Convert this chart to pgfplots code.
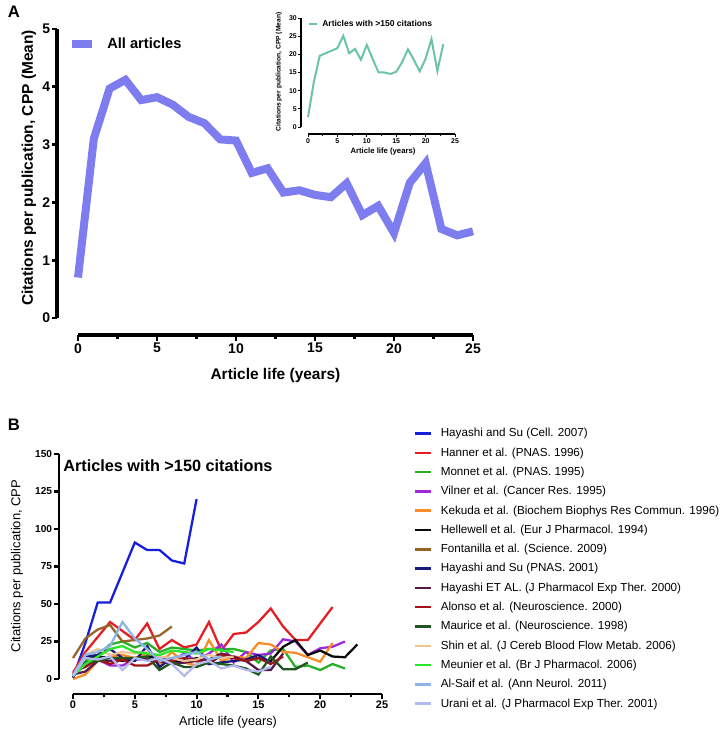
\documentclass[border=0pt]{standalone}
\usepackage{pgfplots}
\pgfplotsset{compat=1.18}
\usepackage{fontspec}
\setmainfont{Liberation Sans}
\definecolor{allart}{RGB}{125,125,240}
\definecolor{insetc}{RGB}{108,196,164}
\definecolor{c1}{RGB}{20,30,220}
\definecolor{c2}{RGB}{230,30,35}
\definecolor{c3}{RGB}{40,175,40}
\definecolor{c4}{RGB}{160,40,220}
\definecolor{c5}{RGB}{250,140,40}
\definecolor{c6}{RGB}{10,10,10}
\definecolor{c7}{RGB}{150,100,40}
\definecolor{c8}{RGB}{25,25,120}
\definecolor{c9}{RGB}{90,25,75}
\definecolor{c10}{RGB}{160,20,25}
\definecolor{c11}{RGB}{35,85,35}
\definecolor{c12}{RGB}{240,195,150}
\definecolor{c13}{RGB}{40,230,40}
\definecolor{c14}{RGB}{140,180,230}
\definecolor{c15}{RGB}{180,185,240}
\pgfplotsset{
  onlyaxis/.style={scale only axis, anchor=south west, tick align=outside,
    /pgf/number format/assume math mode=true},
}
\begin{document}
\begin{tikzpicture}
\path[use as bounding box] (0,0) rectangle (544.5pt,-555.75pt);
% ---------- Panel A ----------
\node[font=\fontsize{12.5}{14}\selectfont\bfseries] at (10.5pt,-9pt) {A};
\node[rotate=90, font=\fontsize{11.6}{13}\selectfont\bfseries] at (21.75pt,-126pt) {Citations per publication, CPP (Mean)};
\node[font=\fontsize{11.6}{13}\selectfont\bfseries] at (206.6pt,-281.25pt) {Article life (years)};
\begin{axis}[onlyaxis, at={(42.75pt,-238.5pt)}, width=1pt, height=216.75pt,
  xmin=0, xmax=1, ymin=0, ymax=5, axis y line*=left, hide x axis,
  ytick={0,1,2,3,4,5}, major tick length=3.5pt,
  axis line style={line width=2.8pt}, tick style={line width=2.2pt, black},
  yticklabel style={font=\fontsize{10.5}{12}\selectfont\bfseries, inner sep=1.5pt}]
\end{axis}
\begin{axis}[onlyaxis, at={(58.5pt,-251.25pt)}, width=296.25pt, height=1pt,
  xmin=0, xmax=25, ymin=0, ymax=1, axis x line*=bottom, hide y axis,
  xtick={0,5,10,15,20,25}, minor xtick={2.5,7.5,12.5,17.5,22.5},
  major tick length=4.5pt, minor tick length=3pt,
  axis line style={line width=2.8pt}, tick style={line width=2.2pt, black},
  xticklabel style={font=\fontsize{10.5}{12}\selectfont\bfseries, inner sep=1.5pt}]
\end{axis}
\begin{axis}[onlyaxis, at={(58.5pt,-238.5pt)}, width=296.25pt, height=216.75pt,
  xmin=0, xmax=25, ymin=0, ymax=5, hide axis, clip=false,
  legend style={draw=none, fill=none, at={(-0.0253,0.948)}, anchor=west, inner sep=0pt,
    nodes={inner sep=0pt, font=\fontsize{11}{13}\selectfont\bfseries}, column sep=8.25pt},
  legend image code/.code={\draw[#1] (0pt,0pt) -- (15pt,0pt);}]
\addplot[color=allart, line width=6pt] coordinates {
 (0,0.70) (1,3.10) (2,3.97) (3,4.12) (4,3.77) (5,3.82) (6,3.69) (7,3.48) (8,3.37)
 (9,3.09) (10,3.07) (11,2.51) (12,2.59) (13,2.17) (14,2.21) (15,2.13) (16,2.09)
 (17,2.33) (18,1.78) (19,1.94) (20,1.47) (21,2.34) (22,2.68) (23,1.54) (24,1.43) (25,1.50)};
\addlegendentry{All articles}
\end{axis}
% ---------- Inset ----------
\node[rotate=90, font=\fontsize{5}{6}\selectfont\bfseries] at (209.25pt,-54pt) {Citations per publication, CPP (Mean)};
\node[font=\fontsize{5.8}{7}\selectfont\bfseries] at (287.25pt,-114pt) {Article life (years)};
\begin{axis}[onlyaxis, at={(225.75pt,-95.25pt)}, width=1pt, height=81.75pt,
  xmin=0, xmax=1, ymin=0, ymax=30, axis y line*=left, hide x axis,
  ytick={0,5,10,15,20,25,30}, major tick length=2pt,
  axis line style={line width=0.8pt}, tick style={line width=0.7pt, black},
  yticklabel style={font=\fontsize{5.2}{6}\selectfont\bfseries, inner sep=1pt}]
\end{axis}
\begin{axis}[onlyaxis, at={(231pt,-100.5pt)}, width=110.25pt, height=1pt,
  xmin=0, xmax=25, ymin=0, ymax=1, axis x line*=bottom, hide y axis,
  xtick={0,5,10,15,20,25}, minor xtick={2.5,7.5,12.5,17.5,22.5},
  major tick length=2pt, minor tick length=1.5pt,
  axis line style={line width=0.8pt}, tick style={line width=0.7pt, black},
  xticklabel style={font=\fontsize{5.2}{6}\selectfont\bfseries, inner sep=1pt}]
\end{axis}
\begin{axis}[onlyaxis, at={(231pt,-95.25pt)}, width=110.25pt, height=81.75pt,
  xmin=0, xmax=25, ymin=0, ymax=30, hide axis, clip=false,
  legend style={draw=none, fill=none, at={(0,0.945)}, anchor=west, inner sep=0pt,
    nodes={inner sep=0pt, font=\fontsize{6.4}{7.5}\selectfont\bfseries}, column sep=3pt},
  legend image code/.code={\draw[#1] (0pt,0pt) -- (6pt,0pt);}]
\addplot[color=insetc, line width=1.5pt] coordinates {
 (0,2.7) (1,12.5) (2,19.6) (3,20.3) (4,21.0) (5,21.7) (6,25.1) (7,20.3) (8,21.5)
 (9,18.5) (10,22.6) (11,18.7) (12,15.0) (13,15.0) (14,14.6) (15,15.2) (16,17.8)
 (17,21.4) (18,18.5) (19,15.3) (20,18.8) (21,24.2) (22,15.4) (23,22.8)};
\addlegendentry{Articles with >150 citations}
\end{axis}
% ---------- Panel B ----------
\node[font=\fontsize{12.5}{14}\selectfont\bfseries] at (10.5pt,-318.75pt) {B};
\node[anchor=west, inner sep=0pt, font=\fontsize{12.2}{14}\selectfont\bfseries] at (47.25pt,-349.5pt) {Articles with >150 citations};
\node[rotate=90, font=\fontsize{9.75}{11}\selectfont] at (12.75pt,-424.5pt) {Citations per publication, CPP};
\node[font=\fontsize{9.5}{11}\selectfont] at (171pt,-541.5pt) {Article life (years)};
\begin{axis}[onlyaxis, at={(44.25pt,-509.25pt)}, width=1pt, height=168.75pt,
  xmin=0, xmax=1, ymin=0, ymax=150, axis y line*=left, hide x axis,
  ytick={0,25,50,75,100,125,150}, major tick length=3.5pt,
  axis line style={line width=2pt}, tick style={line width=1.6pt, black},
  yticklabel style={font=\fontsize{7.6}{9}\selectfont\bfseries, inner sep=1.5pt}]
\end{axis}
\begin{axis}[onlyaxis, at={(54.75pt,-520.5pt)}, width=231.75pt, height=1pt,
  xmin=0, xmax=25, ymin=0, ymax=1, axis x line*=bottom, hide y axis,
  xtick={0,5,10,15,20,25}, minor xtick={2.5,7.5,12.5,17.5,22.5},
  major tick length=3.5pt, minor tick length=2.5pt,
  axis line style={line width=2pt}, tick style={line width=1.6pt, black},
  xticklabel style={font=\fontsize{8.2}{9}\selectfont\bfseries, inner sep=1.5pt}]
\end{axis}
\begin{axis}[onlyaxis, at={(54.75pt,-509.25pt)}, width=231.75pt, height=168.75pt,
  xmin=0, xmax=25, ymin=0, ymax=150, hide axis, clip=false,
  every axis plot/.append style={line width=1.7pt},
  legend style={draw=none, fill=none, at={(1.1003,1.1187)}, anchor=north west, inner sep=0pt,
    nodes={inner sep=0pt, text height=7pt, text depth=2pt, font=\fontsize{8.75}{10.5}\selectfont},
    column sep=6.75pt, row sep=5.47pt},
  legend cell align=left,
  legend image code/.code={\draw[#1, line width=1.9pt] (0pt,0pt) -- (12pt,0pt);}]
\addplot[c1] coordinates {(0,1) (1,24) (2,51) (3,51) (4,71) (5,91) (6,86) (7,86) (8,79) (9,77) (10,120)};
\addlegendentry{Hayashi and Su (Cell. 2007)}
\addplot[c2] coordinates {(0,4) (1,18) (2,28) (3,38) (4,32) (5,26) (6,37) (7,20) (8,26) (9,21) (10,23) (11,38) (12,19) (13,30) (14,31) (15,38) (16,47) (17,35) (18,26) (19,26) (20,37) (21,48)};
\addlegendentry{Hanner et al. (PNAS. 1996)}
\addplot[c3] coordinates {(0,2) (1,12) (2,16) (3,23) (4,25) (5,21) (6,24) (7,18) (8,21) (9,20) (10,19) (11,20) (12,20) (13,20) (14,18) (15,11) (16,19) (17,20) (18,8) (19,9) (20,6) (21,10) (22,7)};
\addlegendentry{Monnet et al. (PNAS. 1995)}
\addplot[c4] coordinates {(0,3) (1,9) (2,13) (3,9) (4,9) (5,13) (6,13) (7,11) (8,12) (9,17) (10,12) (11,17) (12,23) (13,11) (14,18) (15,16) (16,17) (17,26.5) (18,25) (19,16) (20,20.5) (21,21.5) (22,25)};
\addlegendentry{Vilner et al. (Cancer Res. 1995)}
\addplot[c5] coordinates {(0,0) (1,3) (2,12) (3,15) (4,16) (5,14) (6,17) (7,10) (8,18) (9,11) (10,9) (11,26) (12,12) (13,15) (14,14) (15,24) (16,23) (17,18) (18,17.5) (19,14.5) (20,11.5) (21,24)};
\addlegendentry{Kekuda et al. (Biochem Biophys Res Commun. 1996)}
\addplot[c6] coordinates {(0,2) (1,14) (2,15) (3,14) (4,12) (5,13) (6,15) (7,14) (8,12) (9,11) (10,14) (11,10) (12,16) (13,14) (14,12) (15,14) (16,12) (17,21.5) (18,26) (19,16) (20,19) (21,15) (22,14.5) (23,23)};
\addlegendentry{Hellewell et al. (Eur J Pharmacol. 1994)}
\addplot[c7] coordinates {(0,14) (1,27) (2,33) (3,36) (4,25) (5,26) (6,27) (7,29) (8,35)};
\addlegendentry{Fontanilla et al. (Science. 2009)}
\addplot[c8] coordinates {(0,1) (1,15) (2,16) (3,20) (4,14) (5,12) (6,22) (7,8) (8,14) (9,13) (10,21) (11,10) (12,11) (13,12) (14,13) (15,16) (16,11)};
\addlegendentry{Hayashi and Su (PNAS. 2001)}
\addplot[c9] coordinates {(0,3) (1,5) (2,12) (3,12) (4,13) (5,14) (6,13) (7,12) (8,10) (9,11) (10,12) (11,13) (12,17) (13,15) (14,12) (15,6) (16,6) (17,17)};
\addlegendentry{Hayashi ET AL. (J Pharmacol Exp Ther. 2000)}
\addplot[c10] coordinates {(0,5) (1,8) (2,13) (3,10) (4,13) (5,9) (6,9) (7,13) (8,12) (9,14) (10,12) (11,11) (12,16) (13,14) (14,12) (15,14) (16,10) (17,15)};
\addlegendentry{Alonso et al. (Neuroscience. 2000)}
\addplot[c11] coordinates {(0,2) (1,11) (2,12) (3,14) (4,14) (5,14) (6,15) (7,6) (8,11) (9,8) (10,8) (11,11) (12,10) (13,9) (14,7) (15,3) (16,15) (17,6.5) (18,6.5) (19,11)};
\addlegendentry{Maurice et al. (Neuroscience. 1998)}
\addplot[c12] coordinates {(0,2) (1,16) (2,20) (3,16) (4,18) (5,17) (6,18) (7,15) (8,14) (9,12) (10,13) (11,16) (12,14) (13,15)};
\addlegendentry{Shin et al. (J Cereb Blood Flow Metab. 2006)}
\addplot[c13] coordinates {(0,2) (1,10) (2,15) (3,20) (4,22) (5,18) (6,17) (7,16) (8,19) (9,18) (10,17) (11,20) (12,19) (13,18)};
\addlegendentry{Meunier et al. (Br J Pharmacol. 2006)}
\addplot[c14] coordinates {(0,3) (1,16) (2,18) (3,22) (4,38) (5,27) (6,20) (7,12) (8,14) (9,16) (10,18) (11,13) (12,15)};
\addlegendentry{Al-Saif et al. (Ann Neurol. 2011)}
\addplot[c15] coordinates {(0,2) (1,14) (2,13) (3,15) (4,6) (5,14) (6,12) (7,14) (8,10) (9,2) (10,10) (11,12) (12,7) (13,9) (14,6) (15,5) (16,8)};
\addlegendentry{Urani et al. (J Pharmacol Exp Ther. 2001)}
\end{axis}
\end{tikzpicture}
\end{document}
